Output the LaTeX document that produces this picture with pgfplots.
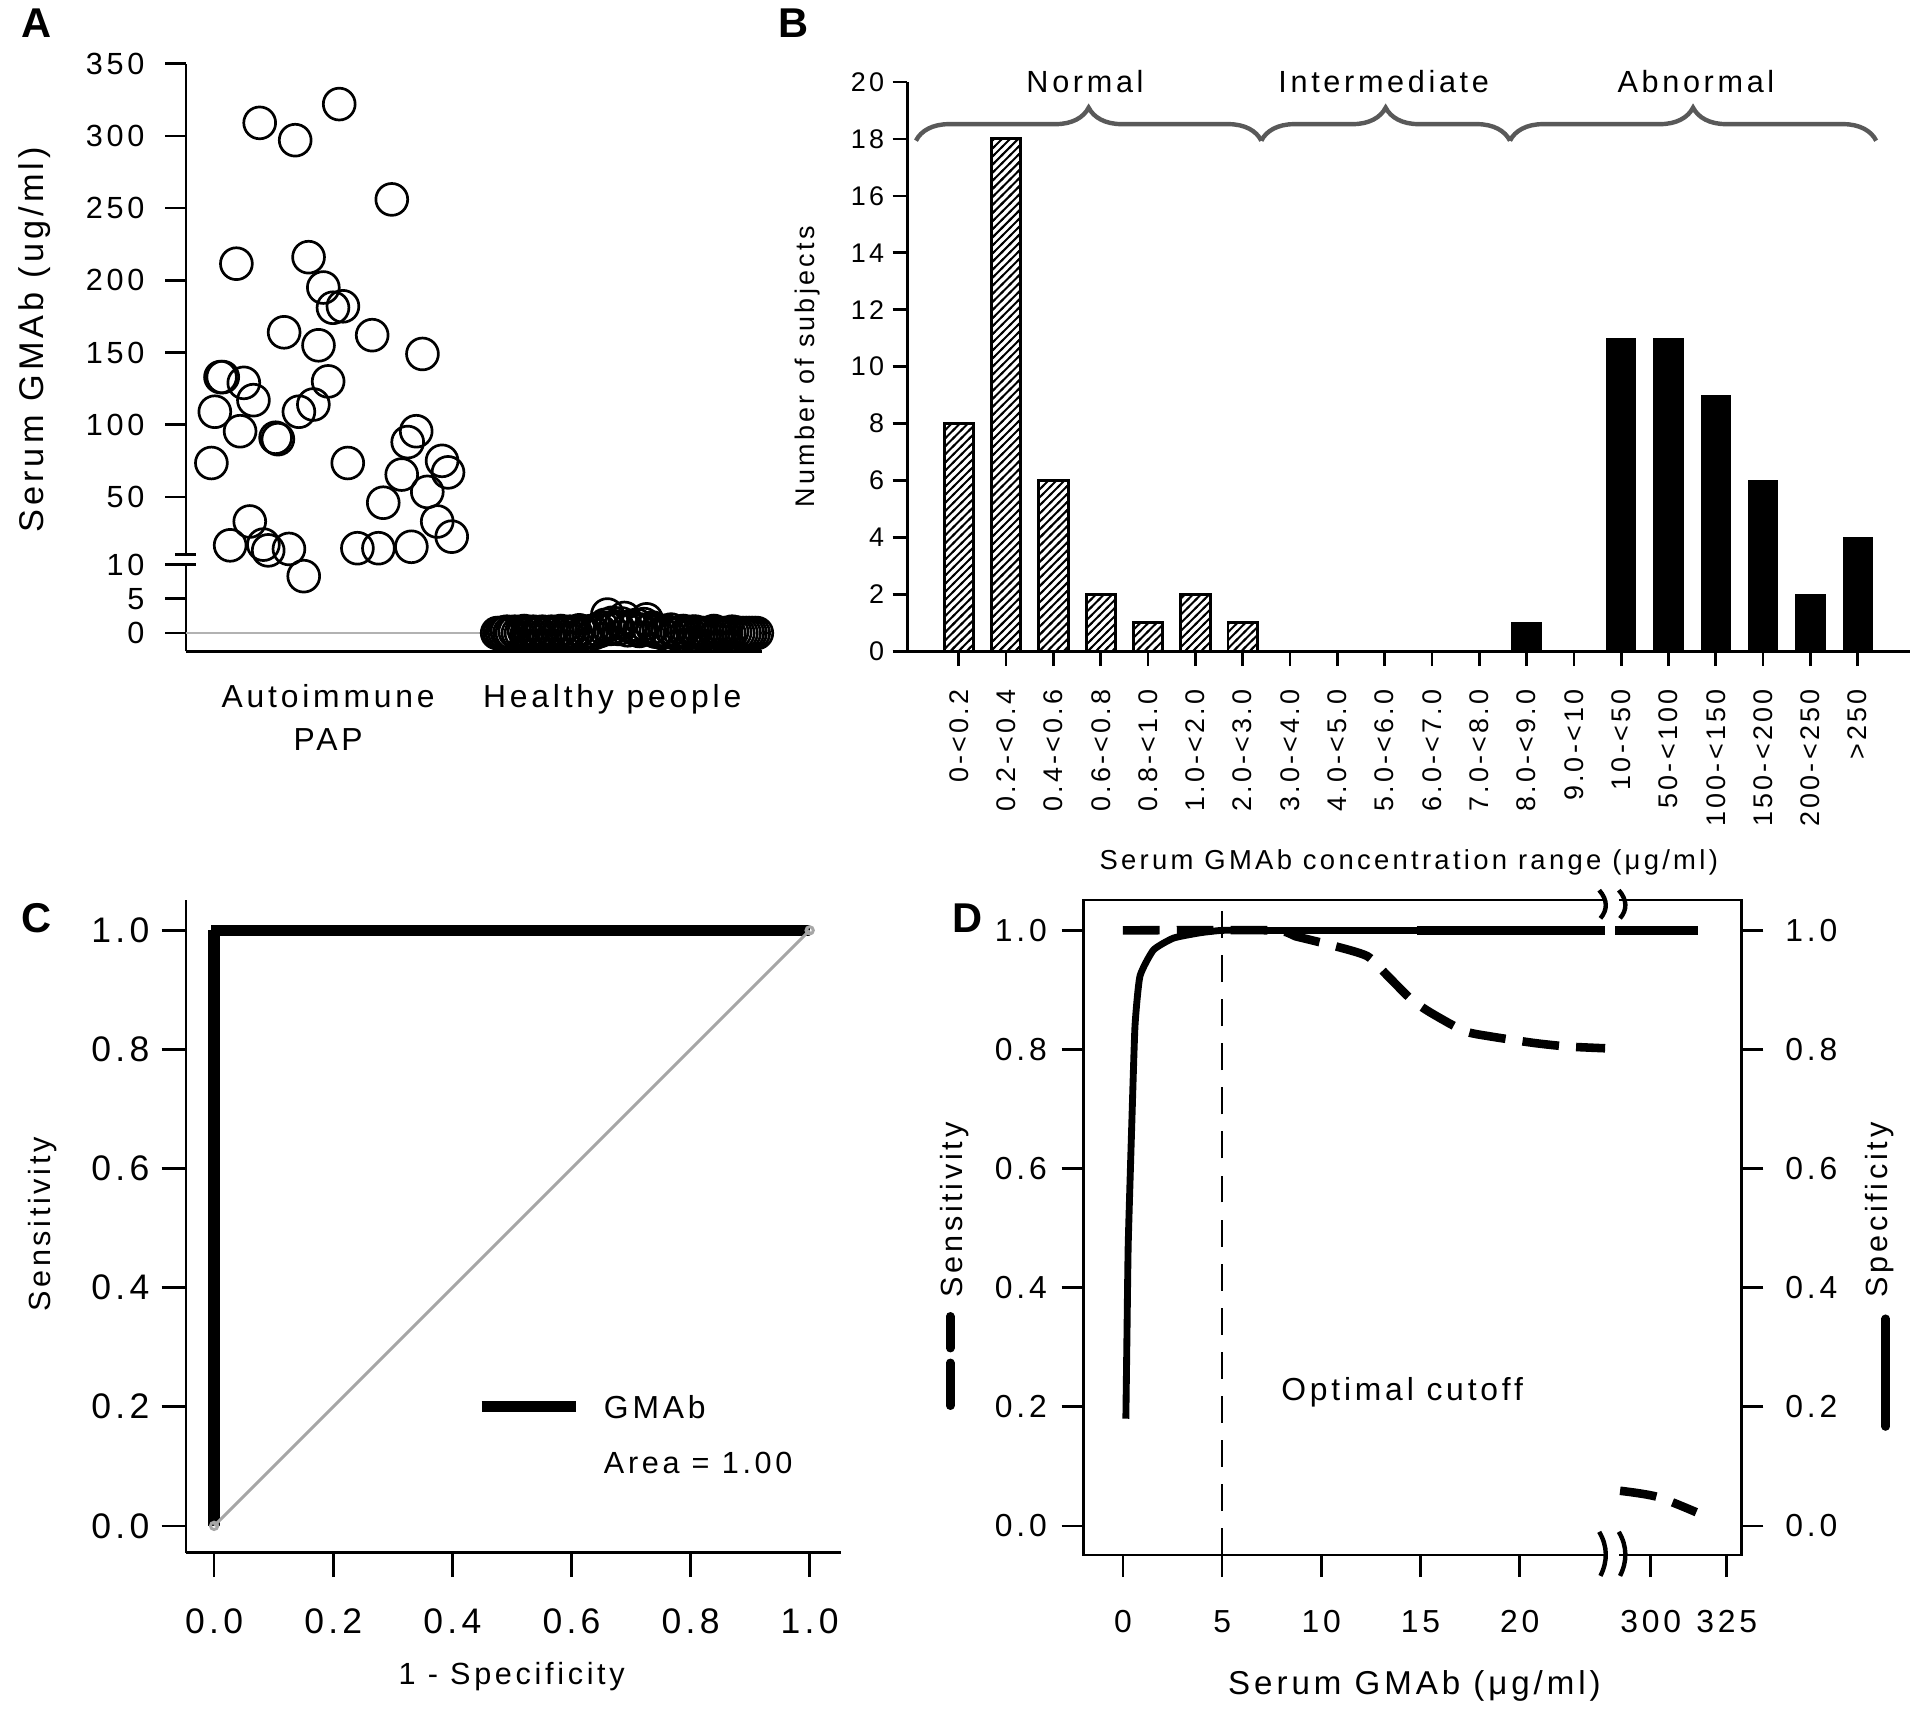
\documentclass[border=0pt]{standalone}
\usepackage{fontspec}
\setmainfont{Liberation Sans}[LetterSpace=12]
\usepackage{pgfplots}
\pgfplotsset{compat=1.18}
\usetikzlibrary{patterns,decorations.pathreplacing}
\newcommand{\fs}[1]{\fontsize{#1}{#1}\selectfont}
\pgfdeclarepatternformonly{myhatch}{\pgfqpoint{-1pt}{-1pt}}{\pgfqpoint{4.3pt}{4.3pt}}{\pgfqpoint{3.3pt}{3.3pt}}{%
  \pgfsetlinewidth{0.8pt}%
  \pgfpathmoveto{\pgfqpoint{-0.5pt}{-0.5pt}}%
  \pgfpathlineto{\pgfqpoint{3.8pt}{3.8pt}}%
  \pgfusepath{stroke}}
\begin{document}
\begin{tikzpicture}
\path[use as bounding box] (0,0) rectangle (784pt,703.5pt);
\pgfplotsset{
  /pgf/number format/assume math mode=true,
  every axis/.append style={scale only axis, axis line style={line width=1.1pt},
    every tick/.style={black, line width=1.1pt}, tick align=outside, clip=false},
}
% ---------------- Panel A ----------------
\begin{axis}[at={(76pt,437.5pt)}, anchor=south west, width=235pt, height=240pt,
  axis x line*=bottom, axis y line*=left,
  xmin=0.5, xmax=2.526, ymin=-2.679, ymax=350,
  y coord trafo/.code={\pgfmathparse{#1<=10 ? 5.6*#1 : 64+1.18*(#1-10)}},
  ytick={0,5,10,50,100,150,200,250,300,350},
  yticklabels={0,5,10,50,100,150,200,250,300,350},
  yticklabel style={font=\fs{12.5}, xshift=-5pt},
  major tick length=8.5pt,
  xtick={1,2}, xticklabels={{Autoimmune\\PAP},{Healthy people}},
  xticklabel style={font=\fontsize{13}{17.5}\selectfont, align=center, anchor=north, yshift=-1.5pt},
  xtick style={draw=none},
]
\addplot[gray!60, line width=0.7pt] coordinates {(0.5,0)(2.45,0)};
\addplot[only marks, mark=o, mark size=6.5pt, mark options={line width=1.1pt}, black] coordinates {
(0.589,73.5)(0.601,109)(0.621,133)(0.629,133)(0.677,211.5)(0.690,95.5)(0.655,16.5)
(0.703,129)(0.737,117)(0.724,33)(0.759,309)(0.772,17)(0.789,13)(0.815,91)(0.823,90)
(0.845,164)(0.862,14)(0.884,297)(0.897,109)(0.914,8.3)(0.931,216)(0.948,114)(0.966,155)
(0.983,195)(1.000,130)(1.017,181)(1.052,182)(1.039,322)(1.069,73.5)(1.103,14.5)
(1.177,14.5)(1.155,162)(1.224,256)(1.194,46)(1.259,65.5)(1.280,88)(1.310,95.5)
(1.293,15.5)(1.332,149)(1.349,53.5)(1.384,33)(1.401,75)(1.422,67)(1.435,22.5)};
\addplot[only marks, mark=o, mark size=6.5pt, mark options={line width=1.1pt}, black] coordinates {
(1.595,0)(1.612,0)(1.629,0.2)(1.647,0)(1.668,0)(1.690,0.3)(1.711,0)(1.733,0)(1.754,0.2)
(1.776,0)(1.797,0)(1.819,0.3)(1.841,0)(1.862,0)(1.884,0.4)(1.905,0)(1.927,0.3)(1.948,0.5)
(1.966,0.8)(1.983,2.7)(2.000,1.5)(2.022,0.6)(2.043,2.2)(2.065,1.0)(2.086,1.2)(2.103,0.5)
(2.121,2.0)(2.142,0.8)(2.164,0.4)(2.185,0.3)(2.207,0.5)(2.228,0)(2.250,0.3)(2.272,0)
(2.293,0.2)(2.315,0)(2.336,0)(2.358,0.3)(2.379,0)(2.401,0)(2.422,0.2)(2.444,0)
(2.466,0)(2.487,0)(2.509,0)};
\addplot[only marks, mark=o, mark size=6.5pt, mark options={line width=1.1pt}, black] coordinates {
(1.603,0)(1.620,0.1)(1.638,0)(1.657,0.2)(1.679,0)(1.700,0)(1.722,0.2)(1.743,0)(1.765,0)
(1.786,0.2)(1.808,0)(1.830,0)(1.851,0.2)(1.873,0)(1.894,0)(1.916,0.2)(1.937,0)(1.957,0.3)
(1.975,1.2)(1.992,0.6)(2.011,0.9)(2.032,1.4)(2.054,0.4)(2.075,0.7)(2.095,0.3)(2.112,1.3)
(2.131,0.5)(2.153,0.2)(2.175,0)(2.196,0.2)(2.218,0)(2.239,0.1)(2.261,0)(2.283,0.2)
(2.304,0)(2.326,0)(2.347,0.1)(2.369,0)(2.390,0)(2.412,0)(2.433,0.1)(2.455,0)
(2.477,0)(2.498,0)};
\node[rotate=90, font=\fs{14}] at (axis description cs:-0.264,0.53) {Serum GMAb (ug/ml)};
\end{axis}
% break mark A
\fill[white] (73.5pt,473.6pt) rectangle (78.5pt,476.4pt);
\draw[line width=1.1pt] (71.5pt,477pt) -- (80pt,477pt);
\draw[line width=1.1pt] (71.5pt,473pt) -- (80pt,473pt);
% ---------------- Panel B ----------------
\begin{axis}[at={(370.5pt,437.5pt)}, anchor=south west, width=409.5pt, height=232.5pt,
  axis x line*=bottom, axis y line*=left,
  xmin=-1.088, xmax=20.11, ymin=0, ymax=20,
  ytick={0,2,4,6,8,10,12,14,16,18,20}, yticklabel style={font=\fs{11}},
  xtick={0,...,19},
  xticklabels={0-<0.2,0.2-<0.4,0.4-<0.6,0.6-<0.8,0.8-<1.0,1.0-<2.0,2.0-<3.0,3.0-<4.0,4.0-<5.0,5.0-<6.0,6.0-<7.0,7.0-<8.0,8.0-<9.0,9.0-<10,10-<50,50-<100,100-<150,150-<200,200-<250,>250},
  xticklabel style={font=\fs{11}, yshift=-6pt, rotate=90, anchor=east},
  major tick length=6pt,
]
\addplot[ybar, bar width=12pt, bar shift=0pt, draw=black, line width=1.2pt, pattern=myhatch]
  coordinates {(0,8)(1,18)(2,6)(3,2)(4,1)(5,2)(6,1)};
\addplot[ybar, bar width=12pt, bar shift=0pt, draw=black, fill=black]
  coordinates {(12,1)(14,11)(15,11)(16,9)(17,6)(18,2)(19,4)};
\draw[decorate, decoration={brace, amplitude=13.5pt}, line width=1.8pt, black!65] (axis cs:-0.906,17.94) -- (axis cs:6.394,17.94);
\draw[decorate, decoration={brace, amplitude=13.5pt}, line width=1.8pt, black!65] (axis cs:6.394,17.94) -- (axis cs:11.65,17.94);
\draw[decorate, decoration={brace, amplitude=13.5pt}, line width=1.8pt, black!65] (axis cs:11.65,17.94) -- (axis cs:19.39,17.94);
\node[font=\fs{12.5}] at (axis cs:2.667,20) {Normal};
\node[font=\fs{12.5}] at (axis cs:8.98,20) {Intermediate};
\node[font=\fs{12.5}] at (axis cs:15.58,20) {Abnormal};
\node[rotate=90, font=\fs{11}] at (axis description cs:-0.1,0.5) {Number of subjects};
\node[font=\fs{11.2}] at (axis description cs:0.5,-0.37) {Serum GMAb concentration range (μg/ml)};
\end{axis}
% ---------------- Panel C ----------------
\begin{axis}[at={(76pt,69.5pt)}, anchor=south west, width=267.5pt, height=266.5pt,
  axis x line*=bottom, axis y line*=left,
  xmin=-0.047, xmax=1.053, ymin=-0.045, ymax=1.051,
  xtick={0,0.2,0.4,0.6,0.8,1}, xticklabels={0.0,0.2,0.4,0.6,0.8,1.0},
  ytick={0,0.2,0.4,0.6,0.8,1}, yticklabels={0.0,0.2,0.4,0.6,0.8,1.0},
  tick label style={font=\fs{14.5}},
  xticklabel style={yshift=-9.5pt},
  yticklabel style={xshift=-1.5pt},
  major tick length=10pt,
]
\addplot[black, line width=5pt] coordinates {(0,0)(0,1)};
\addplot[black, line width=4.5pt] coordinates {(-0.0045,1)(1,1)};
\addplot[black!35, line width=1.2pt, mark=o, mark size=1.5pt] coordinates {(0,0)(1,1)};
\addplot[black, line width=4.5pt] coordinates {(0.449,0.2)(0.607,0.2)};
\node[anchor=west, font=\fs{13}] at (axis cs:0.64,0.2) {GMAb};
\node[anchor=west, font=\fs{12.5}] at (axis cs:0.64,0.105) {Area = 1.00};
\node[rotate=90, font=\fs{12.5}] at (axis description cs:-0.219,0.503) {Sensitivity};
\node[font=\fs{12.5}] at (axis description cs:0.497,-0.19) {1 - Specificity};
\end{axis}
% ---------------- Panel D ----------------
\begin{axis}[at={(442.5pt,68.5pt)}, anchor=south west, width=268.5pt, height=267.5pt,
  x coord trafo/.code={\pgfmathparse{#1<=100 ? #1 : 26.6+0.153*(#1-300)}},
  xmin=-1.975, xmax=329.8, ymin=-0.049, ymax=1.051,
  xtick={0,5,10,15,20,300,325}, xticklabels={0,5,10,15,20,300,325},
  ytick={0,0.2,0.4,0.6,0.8,1}, yticklabels={0.0,0.2,0.4,0.6,0.8,1.0},
  xtick pos=left, ytick pos=left,
  tick label style={font=\fs{13}},
  xticklabel style={yshift=-10pt},
  yticklabel style={xshift=-2.5pt},
  major tick length=9pt,
]
\addplot[black, line width=1.1pt, dash pattern=on 11pt off 7pt] coordinates {(5,-0.049)(5,1.032)};
\addplot[black, line width=2.8pt, smooth, tension=0.3] coordinates {(0.15,0.18)(0.21,0.33)(0.27,0.474)(0.45,0.676)(0.61,0.839)(0.86,0.923)(1.54,0.967)(2.55,0.987)(3.9,0.996)(5,1)(6.5,1)};
\addplot[black, line width=2.8pt] coordinates {(6.5,1)(14.8,1)};
\addplot[black, line width=3.8pt] coordinates {(14.8,1)(24.3,1)};
\addplot[black, line width=3.8pt] coordinates {(288.3,1)(315.7,1)};
\addplot[black, line width=3.5pt, dash pattern=on 15pt off 7pt, smooth, tension=0.4] coordinates {(0,1)(7.5,1)(8.7,0.99)(10.4,0.976)(12.3,0.957)(13.3,0.925)(14.5,0.885)(15.5,0.862)(17.2,0.831)(18.5,0.822)(20.7,0.811)(22.4,0.805)(24.3,0.802)};
\addplot[black, line width=3.5pt, dash pattern=on 15pt off 7pt, smooth] coordinates {(289.9,0.059)(302,0.049)(315,0.023)};
\node[font=\fs{13}] at (axis cs:14.07,0.224) {Optimal cutoff};
\node[rotate=90, font=\fs{12.5}] at (axis description cs:-0.196,0.527) {Sensitivity};
\node[font=\fs{13.5}] at (axis description cs:0.503,-0.2) {Serum GMAb (μg/ml)};
\end{axis}
\begin{axis}[at={(442.5pt,68.5pt)}, anchor=south west, width=268.5pt, height=267.5pt,
  axis x line=none, axis y line*=right,
  xmin=0, xmax=1, ymin=-0.049, ymax=1.051,
  ytick={0,0.2,0.4,0.6,0.8,1}, yticklabels={0.0,0.2,0.4,0.6,0.8,1.0},
  tick label style={font=\fs{13}},
  yticklabel style={xshift=5.5pt},
  major tick length=9pt,
]
\node[rotate=90, font=\fs{12.5}] at (axis description cs:1.21,0.527) {Specificity};
\end{axis}
% break marks D
\fill[white] (655.5pt,332pt) rectangle (661pt,340pt);
\fill[white] (655.5pt,64.5pt) rectangle (661pt,72.5pt);
\foreach \xx in {654pt,662pt}{
  \draw[line width=1.8pt] ([xshift=\xx]-1pt,340pt) .. controls ([xshift=\xx]2.5pt,336pt) and ([xshift=\xx]2.5pt,332pt) .. ([xshift=\xx]-0.5pt,328.5pt);
  \draw[line width=1.8pt] ([xshift=\xx]-1pt,78pt) .. controls ([xshift=\xx]2.5pt,72pt) and ([xshift=\xx]2.5pt,66pt) .. ([xshift=\xx]-0.5pt,60pt);
}
% legend swatches D
\draw[line width=3.5pt, line cap=round] (388pt,166pt) -- (388pt,153pt);
\draw[line width=3.5pt, line cap=round] (388pt,147pt) -- (388pt,129.5pt);
\draw[line width=3.5pt, line cap=round] (770pt,165pt) -- (770pt,121pt);
% panel letters
\node[font=\bfseries\fs{17}] at (15pt,694pt) {A};
\node[font=\bfseries\fs{17}] at (324pt,694pt) {B};
\node[font=\bfseries\fs{17}] at (15pt,328.5pt) {C};
\node[font=\bfseries\fs{17}] at (395pt,328.5pt) {D};
\end{tikzpicture}
\end{document}
